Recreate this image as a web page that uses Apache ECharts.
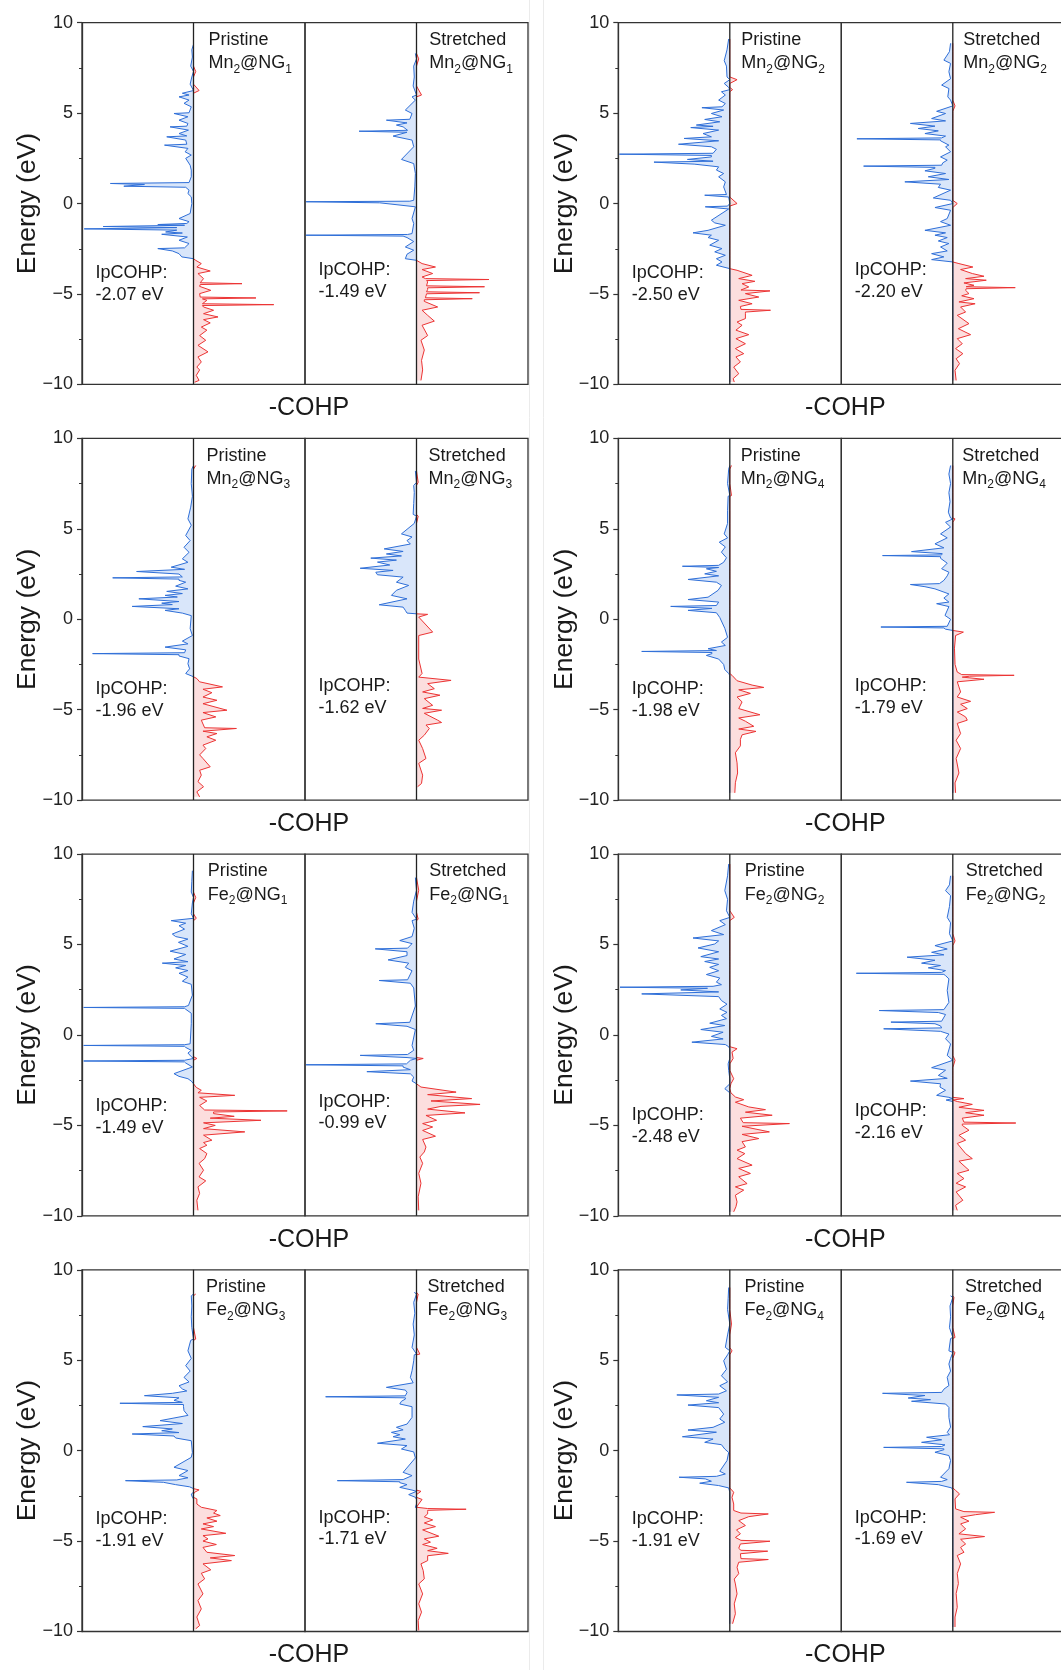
<!DOCTYPE html>
<html>
<head>
<meta charset="utf-8">
<script src="https://cdn.jsdelivr.net/npm/echarts@6/dist/echarts.min.js"></script>
<style>
html,body{margin:0;padding:0;background:#fff;}
#c{width:1061px;height:1670px;}
</style>
</head>
<body>
<div id="c"></div>
<script>
// ---------------- DATA ----------------
// Energy axis ticks (eV)
const energyTicks = [-10, -5, 0, 5, 10];
// Group labels (order: row by row, left column first)
const metals = ['Mn', 'Mn', 'Mn', 'Mn', 'Fe', 'Fe', 'Fe', 'Fe'];
const ngIndex = ['1', '2', '3', '4', '1', '2', '3', '4'];
const ipcohpPristine = ['-2.07', '-2.50', '-1.96', '-1.98', '-1.49', '-2.48', '-1.91', '-1.91'];
const ipcohpStretched = ['-1.49', '-2.20', '-1.62', '-1.79', '-0.99', '-2.16', '-1.71', '-1.69'];

// Spectra: [energy (eV), -COHP (arb. units, panel spans -10..10)]
const mn2ng1_pristine = [[8.8,0],[8.5,-0.15],[8.1,-0.1],[7.6,-0.25],[7.3,0.2],[7.0,-0.15],[6.6,-0.3],[6.25,0.5],[6.1,-1.0],[6.0,-0.4],[5.9,-1.3],[5.72,-0.4],[5.54,-0.85],[5.35,-0.2],[5.02,-0.4],[4.98,-1.75],[4.8,-0.5],[4.61,-1.3],[4.43,-0.5],[4.28,-0.6],[4.24,-2.1],[4.06,-0.45],[3.87,-1.3],[3.74,-0.6],[3.69,-2.4],[3.51,-0.7],[3.28,-0.6],[3.23,-2.6],[3.05,-0.5],[2.86,-0.75],[2.68,-0.2],[2.5,-0.7],[2.12,-0.3],[1.85,-0.2],[1.48,-0.2],[1.16,-0.4],[1.11,-7.45],[1.05,-4.4],[0.96,-6.25],[0.9,-0.7],[0.74,-0.4],[0.55,-0.5],[0.37,-0.2],[0.0,-0.15],[-0.55,-0.3],[-0.83,-1.3],[-1.0,-0.4],[-1.1,-0.6],[-1.16,-3.2],[-1.2,-0.8],[-1.27,-8.1],[-1.33,-1.5],[-1.4,-9.8],[-1.47,-1.5],[-1.57,-2.5],[-1.63,-1.0],[-1.7,-2.85],[-1.85,-0.55],[-2.03,-1.3],[-2.21,-0.4],[-2.45,-0.8],[-2.49,-3.2],[-2.62,-1.9],[-2.77,-1.3],[-2.95,-1.05],[-3.05,0],[-3.14,0.2],[-3.32,0.7],[-3.51,0.3],[-3.73,1.5],[-3.87,0.4],[-4.15,0.9],[-4.38,0.6],[-4.43,4.35],[-4.48,0.6],[-4.58,0.55],[-4.8,1.55],[-4.98,0.55],[-5.17,0.6],[-5.22,5.6],[-5.27,0.8],[-5.35,1.2],[-5.54,0.8],[-5.59,7.2],[-5.64,0.8],[-5.72,0.9],[-5.9,1.8],[-6.09,0.9],[-6.27,2.2],[-6.42,0.9],[-6.6,1.5],[-6.83,0.7],[-7.0,1.2],[-7.3,0.55],[-7.56,1.1],[-7.84,0.4],[-8.2,1.3],[-8.48,0.4],[-8.76,0.7],[-9.04,0.3],[-9.2,0.55],[-9.5,0.25],[-9.78,0.5],[-9.88,0.1]];
const mn2ng1_stretched = [[8.3,-0.1],[8.0,0.2],[7.6,-0.25],[7.0,-0.2],[6.5,-0.3],[6.0,0.45],[5.9,-0.4],[5.72,-0.1],[5.17,-1.0],[4.98,-0.4],[4.66,-0.6],[4.61,-2.7],[4.46,-0.85],[4.34,-1.8],[4.24,-1.2],[4.05,-0.8],[4.0,-5.15],[3.94,-0.85],[3.73,-2.1],[3.51,-0.4],[3.14,-0.25],[2.44,-1.35],[2.21,-0.25],[1.66,-0.1],[0.92,-0.15],[0.18,-0.25],[0.13,-0.6],[0.1,-9.9],[0.04,-3.3],[-0.18,-0.1],[-0.83,-0.4],[-1.11,-0.25],[-1.66,-0.4],[-1.71,-0.8],[-1.75,-9.9],[-1.8,-1.2],[-1.88,-0.85],[-2.1,-0.25],[-2.4,-1.0],[-2.58,-0.25],[-2.8,-0.85],[-3.05,-1.0],[-3.14,0],[-3.32,0.5],[-3.51,1.7],[-3.65,0.5],[-3.87,1.45],[-4.06,0.5],[-4.15,0.8],[-4.2,6.5],[-4.26,0.9],[-4.33,1.0],[-4.55,0.9],[-4.6,6.1],[-4.66,1.0],[-4.75,1.0],[-4.88,0.9],[-4.93,5.65],[-4.99,0.9],[-5.1,0.85],[-5.21,0.8],[-5.26,5.0],[-5.32,0.7],[-5.41,0.7],[-5.72,1.9],[-5.9,0.5],[-6.18,1.0],[-6.5,1.6],[-6.73,0.5],[-7.3,1.0],[-7.56,0.4],[-8.1,0.7],[-8.67,0.45],[-9.2,0.55],[-9.78,0.4]];
const mn2ng2_pristine = [[9.1,-0.1],[8.5,-0.25],[7.9,-0.5],[7.6,-0.3],[7.0,-0.25],[6.85,0.65],[6.64,-0.5],[6.42,-0.1],[6.3,0.25],[6.18,-0.75],[6.0,-0.4],[5.72,-1.0],[5.53,-0.4],[5.35,-0.7],[5.3,-2.5],[5.17,-0.55],[4.98,-1.65],[4.8,-0.7],[4.65,-2.25],[4.52,-0.9],[4.34,-3.0],[4.27,-1.5],[4.2,-3.5],[4.06,-1.0],[3.87,-2.4],[3.69,-1.65],[3.6,-4.1],[3.47,-1.0],[3.28,-4.6],[3.14,-1.65],[3.0,-1.2],[2.78,-1.5],[2.73,-9.9],[2.66,-1.65],[2.58,-1.65],[2.44,-3.8],[2.34,-1.5],[2.29,-6.8],[2.18,-3.2],[2.03,-1.0],[1.85,-1.2],[1.66,-0.55],[1.48,-1.0],[1.2,-0.4],[0.92,-0.55],[0.5,-0.3],[0.46,-2.25],[0.36,-0.1],[0.0,0.65],[-0.14,-0.2],[-0.18,-2.2],[-0.3,-0.1],[-0.92,-1.65],[-1.07,-1.35],[-1.2,-0.4],[-1.48,-1.95],[-1.62,-3.3],[-1.75,-1.65],[-1.88,-1.95],[-2.03,-1.0],[-2.3,-1.8],[-2.49,-0.7],[-2.67,-1.35],[-2.86,-0.4],[-3.05,-1.2],[-3.23,-0.7],[-3.41,-1.2],[-3.6,0],[-3.69,0.65],[-3.97,2.0],[-4.15,0.8],[-4.3,2.25],[-4.43,1.1],[-4.61,1.7],[-4.78,1.0],[-4.83,3.6],[-4.98,1.4],[-5.17,2.6],[-5.35,0.8],[-5.54,2.0],[-5.69,0.95],[-5.85,1.0],[-5.9,3.65],[-6.0,1.4],[-6.09,1.4],[-6.36,1.4],[-6.55,0.65],[-6.73,1.1],[-7.0,0.55],[-7.25,1.7],[-7.47,0.55],[-7.75,1.4],[-8.02,0.5],[-8.3,1.25],[-8.48,0.55],[-8.76,0.95],[-9.04,0.35],[-9.41,0.8],[-9.68,0.3],[-9.87,0.4]];
const mn2ng2_stretched = [[8.86,-0.2],[8.4,-0.3],[7.93,-0.8],[7.75,-0.2],[7.29,-0.35],[6.9,-0.2],[6.55,-1.0],[6.36,-0.35],[5.9,-0.45],[5.72,-0.2],[5.4,0.2],[5.1,-1.45],[4.98,-0.65],[4.7,-1.9],[4.57,-0.65],[4.43,-3.8],[4.28,-1.6],[4.15,-3.1],[4.02,-1.3],[3.87,-2.5],[3.73,-0.65],[3.63,-1.0],[3.58,-8.6],[3.52,-1.1],[3.47,-1.1],[3.23,-0.35],[3.14,-0.65],[2.86,-0.2],[2.58,-1.1],[2.4,-0.5],[2.25,-0.9],[2.12,-1.0],[2.07,-8.0],[2.0,-1.6],[1.95,-1.6],[1.81,-2.5],[1.66,-0.65],[1.48,-2.2],[1.33,-0.35],[1.2,-4.3],[1.07,-1.1],[0.89,-1.3],[0.74,-0.2],[0.31,-1.75],[0.18,-0.2],[0.0,0.4],[-0.22,-1.6],[-0.37,-0.2],[-0.83,-0.5],[-1.0,-1.1],[-1.2,-0.2],[-1.48,-2.5],[-1.62,-0.65],[-1.75,-1.6],[-1.88,-0.5],[-2.07,-1.3],[-2.21,-0.35],[-2.4,-1.1],[-2.62,-0.5],[-2.77,-1.9],[-2.95,-0.8],[-3.1,-1.9],[-3.23,0],[-3.32,0.55],[-3.51,1.8],[-3.65,0.7],[-3.87,1.75],[-4.02,2.8],[-4.15,1.15],[-4.24,3.0],[-4.39,1.0],[-4.52,1.9],[-4.6,1.2],[-4.65,5.6],[-4.71,1.2],[-4.8,1.15],[-4.98,1.45],[-5.1,0.8],[-5.26,1.9],[-5.44,0.55],[-5.54,2.0],[-5.72,0.7],[-6.0,1.15],[-6.18,0.4],[-6.64,1.45],[-6.92,0.5],[-7.25,1.6],[-7.47,0.4],[-7.75,0.85],[-8.02,0.25],[-8.3,0.9],[-8.58,0.3],[-8.85,0.6],[-9.22,0.2],[-9.78,0.3]];
const mn2ng3_pristine = [[8.5,0.2],[8.3,-0.15],[7.5,-0.2],[6.8,-0.1],[6.2,-0.25],[5.55,-0.5],[5.2,-0.2],[4.63,-0.7],[4.35,-0.3],[3.98,-0.85],[3.7,-0.4],[3.34,-1.0],[3.15,-0.5],[2.88,-2.0],[2.76,-0.8],[2.64,-5.1],[2.5,-1.3],[2.34,-1.0],[2.29,-7.25],[2.22,-1.3],[2.15,-1.3],[2.05,-0.7],[1.83,-1.6],[1.68,-0.5],[1.54,-2.4],[1.42,-1.0],[1.32,-2.55],[1.23,-1.45],[1.13,-4.9],[0.98,-1.3],[0.89,-2.85],[0.81,-1.9],[0.71,-5.5],[0.58,-1.3],[0.49,-2.55],[0.34,-1.0],[0.2,-0.2],[-0.52,-0.3],[-0.9,-0.1],[-1.21,-1.0],[-1.36,-0.5],[-1.54,-2.55],[-1.69,-0.7],[-1.85,-0.8],[-1.9,-9.05],[-1.96,-1.3],[-2.03,-1.3],[-2.18,-0.4],[-2.46,-0.5],[-2.74,-0.35],[-3.0,-0.7],[-3.18,0],[-3.28,0.3],[-3.46,0.55],[-3.74,2.6],[-3.87,0.85],[-4.06,1.65],[-4.3,0.85],[-4.48,2.1],[-4.67,0.85],[-5.03,3.0],[-5.16,0.85],[-5.4,2.0],[-5.58,0.7],[-6.0,1.0],[-6.04,3.85],[-6.19,0.85],[-6.32,2.1],[-6.5,1.2],[-6.69,2.0],[-6.96,0.85],[-7.15,1.1],[-7.5,0.55],[-7.7,0.85],[-8.16,1.5],[-8.35,0.55],[-8.62,0.7],[-8.98,0.4],[-9.26,0.9],[-9.54,0.3],[-9.82,0.55]];
const mn2ng3_stretched = [[8.2,-0.1],[7.57,0.15],[7.4,-0.25],[7.0,-0.2],[6.4,-0.25],[5.8,-0.3],[5.7,0.15],[5.3,-0.2],[4.72,-1.35],[4.55,-0.4],[4.35,-0.85],[4.16,-0.55],[3.89,-2.9],[3.75,-1.2],[3.61,-2.7],[3.5,-1.35],[3.38,-4.1],[3.27,-1.8],[3.16,-3.5],[3.0,-2.4],[2.82,-5.05],[2.7,-2.1],[2.6,-3.65],[2.46,-3.5],[2.33,-1.2],[2.05,-1.8],[1.87,-0.7],[1.6,-1.8],[1.32,-2.25],[1.13,-0.85],[0.8,-3.35],[0.67,-1.2],[0.49,-1.0],[0.34,-0.85],[0.3,0],[0.27,1.0],[0.12,0.2],[-0.71,1.45],[-0.9,0.2],[-2.2,0.2],[-3.0,0.5],[-3.2,0.2],[-3.38,3.1],[-3.56,1.0],[-3.84,1.6],[-4.02,0.55],[-4.2,2.1],[-4.39,0.7],[-4.76,1.45],[-4.93,0.55],[-5.03,2.25],[-5.2,0.7],[-5.58,1.9],[-5.71,2.25],[-5.85,0.85],[-6.04,1.15],[-6.41,0.7],[-6.69,0.2],[-7.15,0.55],[-7.7,0.85],[-7.97,0.2],[-8.62,0.55],[-9.08,0.45],[-9.26,0.1]];
const mn2ng4_pristine = [[8.5,0.15],[8.3,-0.1],[7.5,-0.2],[6.84,0.15],[6.8,-0.15],[6.0,-0.2],[5.3,-0.2],[4.72,-0.5],[4.5,-0.2],[4.26,-0.95],[4.0,-0.4],[3.71,-0.75],[3.4,-0.3],[3.15,-0.55],[2.98,-1.0],[2.93,-4.25],[2.86,-1.0],[2.79,-2.1],[2.65,-1.2],[2.51,-2.25],[2.4,-1.0],[2.2,-3.75],[2.05,-1.2],[1.87,-0.75],[1.6,-1.05],[1.22,-1.95],[1.09,-3.75],[0.95,-1.0],[0.76,-1.2],[0.71,-5.3],[0.6,-1.6],[0.49,-3.75],[0.36,-1.2],[0.1,-0.9],[-0.5,-0.45],[-1.0,-0.2],[-1.26,-0.75],[-1.45,-0.4],[-1.63,-1.95],[-1.73,-1.2],[-1.78,-7.9],[-1.84,-1.6],[-1.9,-1.6],[-2.0,-2.1],[-2.2,-1.0],[-2.5,-0.55],[-2.78,-0.45],[-3.0,-0.1],[-3.1,0.2],[-3.4,0.65],[-3.64,2.0],[-3.77,3.05],[-3.9,0.8],[-4.1,1.85],[-4.3,0.65],[-4.57,1.1],[-4.94,0.8],[-5.28,2.7],[-5.46,0.8],[-5.64,1.4],[-5.92,2.15],[-6.07,0.8],[-6.2,2.35],[-6.39,1.1],[-6.64,0.95],[-7.0,0.95],[-7.38,0.5],[-7.94,0.65],[-8.5,0.7],[-9.04,0.5],[-9.6,0.45]];
const mn2ng4_stretched = [[8.5,-0.2],[8.03,-0.35],[7.5,-0.2],[7.0,-0.35],[6.5,-0.25],[5.92,-0.4],[5.6,-0.2],[5.55,0.2],[5.36,-0.65],[5.1,-0.2],[4.72,-1.1],[4.5,-0.5],[4.17,-1.6],[3.95,-0.8],[3.74,-3.7],[3.63,-0.95],[3.56,-1.0],[3.52,-6.3],[3.46,-1.1],[3.37,-1.1],[3.1,-0.5],[2.79,-1.0],[2.6,-0.35],[2.4,-0.5],[2.15,-0.8],[1.97,-1.2],[1.92,-3.8],[1.8,-2.5],[1.68,-1.6],[1.4,-0.35],[1.17,-0.8],[0.95,-0.35],[0.86,-1.45],[0.7,-0.35],[0.21,-0.7],[0.0,-0.2],[-0.39,-0.5],[-0.43,-6.45],[-0.48,-0.8],[-0.55,-0.65],[-0.62,0],[-0.71,0.95],[-0.9,0.25],[-1.6,0.15],[-2.5,0.2],[-2.92,0.4],[-3.06,0.8],[-3.1,5.5],[-3.15,1.5],[-3.2,0.85],[-3.32,2.8],[-3.46,0.4],[-3.74,0.55],[-4.02,0.7],[-4.3,0.4],[-4.54,1.6],[-4.7,0.7],[-4.94,1.3],[-5.13,0.4],[-5.4,1.15],[-5.58,1.3],[-5.76,0.4],[-6.32,0.7],[-6.69,0.3],[-7.15,0.7],[-7.7,0.3],[-8.5,0.55],[-9.05,0.2],[-9.6,0.25]];
const fe2ng1_pristine = [[9.08,-0.1],[8.5,-0.15],[7.9,-0.2],[7.6,0.2],[7.3,-0.1],[6.7,-0.2],[6.45,0.25],[6.32,-2.0],[6.18,-0.7],[6.04,-1.3],[5.85,-0.8],[5.58,-1.9],[5.44,-1.6],[5.3,-0.5],[5.12,-1.35],[4.9,-0.5],[4.63,-2.1],[4.45,-0.7],[4.2,-1.75],[4.05,-0.5],[3.97,-2.8],[3.84,-0.7],[3.71,-1.6],[3.56,-0.5],[3.41,-1.3],[3.2,-0.5],[2.97,-1.0],[2.8,-0.2],[2.2,-0.1],[1.63,-0.45],[1.56,-0.8],[1.52,-9.85],[1.47,-0.8],[1.42,-0.7],[1.2,-0.2],[0.62,-0.2],[-0.49,-0.3],[-0.54,-0.8],[-0.58,-9.85],[-0.63,-0.8],[-0.69,-0.7],[-0.85,-0.2],[-1.0,-0.5],[-1.2,-0.2],[-1.3,0.3],[-1.4,-0.8],[-1.44,-9.85],[-1.49,-0.8],[-1.55,-0.7],[-1.77,-0.1],[-2.14,-1.75],[-2.29,-1.3],[-2.42,-0.5],[-2.55,-0.2],[-2.7,0],[-2.9,0.25],[-3.06,0.7],[-3.2,0.4],[-3.34,3.7],[-3.45,0.55],[-3.65,1.2],[-3.9,0.55],[-4.15,1.0],[-4.2,8.4],[-4.26,1.8],[-4.35,1.8],[-4.5,3.65],[-4.6,1.5],[-4.72,6.05],[-4.86,0.9],[-5.0,1.95],[-5.18,0.9],[-5.36,4.6],[-5.54,0.9],[-5.82,1.65],[-5.95,0.9],[-6.1,1.2],[-6.28,0.55],[-6.56,1.2],[-6.84,1.0],[-7.1,0.5],[-7.48,0.9],[-7.85,0.5],[-8.07,1.1],[-8.4,0.4],[-8.76,0.55],[-9.14,0.3],[-9.7,0.4]];
const fe2ng1_stretched = [[8.7,-0.1],[8.0,0.2],[7.4,-0.25],[6.78,-0.4],[6.4,0.15],[6.32,-0.4],[5.9,-0.2],[5.44,-0.4],[5.22,-1.5],[5.05,-0.4],[4.8,-0.8],[4.76,-3.7],[4.6,-0.85],[4.39,-0.85],[4.15,-2.55],[3.97,-0.7],[3.74,-1.0],[3.55,-0.4],[3.05,-0.8],[3.01,-3.35],[2.86,-0.55],[2.6,-0.25],[1.6,-0.1],[0.7,-0.6],[0.62,-3.65],[0.48,-0.85],[0.3,-0.1],[-0.58,-0.4],[-0.85,-0.25],[-1.08,-0.8],[-1.13,-5.05],[-1.25,-0.85],[-1.3,0.6],[-1.4,-0.55],[-1.6,-0.9],[-1.65,-9.9],[-1.71,-1.2],[-1.78,-1.2],[-1.92,-0.55],[-2.03,-4.45],[-2.15,-0.55],[-2.33,-0.25],[-2.55,-0.4],[-2.7,0],[-2.88,0.4],[-3.16,3.55],[-3.3,1.0],[-3.52,4.95],[-3.65,1.3],[-3.84,5.7],[-3.95,2.2],[-4.1,1.0],[-4.31,4.35],[-4.45,0.85],[-4.72,1.8],[-4.9,0.55],[-5.09,1.45],[-5.28,0.55],[-5.6,1.7],[-5.78,0.55],[-6.2,0.85],[-6.47,0.7],[-6.75,0.3],[-7.1,0.55],[-7.65,0.2],[-8.2,0.4],[-8.95,0.15],[-9.7,0.2]];
const fe2ng2_pristine = [[9.45,-0.1],[8.8,-0.2],[7.98,-0.45],[7.5,-0.2],[6.87,-0.3],[6.5,0.4],[6.32,-0.9],[6.1,-0.4],[5.77,-1.65],[5.55,-0.55],[5.36,-3.3],[5.2,-1.0],[5.03,-1.35],[4.81,-2.85],[4.6,-1.0],[4.33,-2.6],[4.2,-1.0],[4.06,-2.25],[3.9,-1.0],[3.74,-1.8],[3.55,-1.0],[3.34,-2.1],[3.15,-0.9],[2.92,-1.2],[2.78,-0.75],[2.69,-1.5],[2.64,-9.85],[2.58,-2.0],[2.49,-4.4],[2.38,-1.0],[2.27,-7.9],[2.12,-1.0],[1.9,-0.75],[1.7,-0.25],[1.44,-0.9],[1.25,-0.25],[1.08,-0.75],[0.9,-0.3],[0.65,-1.8],[0.52,-0.45],[0.3,-2.6],[0.15,-0.6],[-0.08,-1.65],[-0.22,-0.6],[-0.4,-3.4],[-0.53,-0.4],[-0.65,-0.1],[-0.76,0.65],[-0.95,0.2],[-1.3,0.3],[-1.6,-0.15],[-1.96,-0.1],[-2.42,0.35],[-2.7,0.1],[-2.97,-0.45],[-3.2,0.1],[-3.43,0.5],[-3.58,1.25],[-3.72,0.5],[-3.98,1.7],[-4.13,3.2],[-4.27,1.4],[-4.44,3.8],[-4.6,0.95],[-4.85,1.2],[-4.9,5.35],[-5.05,1.1],[-5.36,3.55],[-5.5,1.1],[-5.73,2.6],[-5.9,1.1],[-6.19,1.4],[-6.37,0.65],[-6.56,1.35],[-6.84,0.65],[-7.2,2.0],[-7.38,0.8],[-7.66,1.85],[-7.84,0.8],[-8.22,1.55],[-8.4,0.5],[-8.58,1.25],[-8.86,0.5],[-9.23,0.65],[-9.5,0.55],[-9.78,0.35]];
const fe2ng2_stretched = [[8.8,-0.2],[8.3,-0.3],[7.98,-0.65],[7.7,-0.2],[7.1,-0.3],[6.5,-0.5],[6.2,-0.2],[5.6,-0.3],[5.2,0.2],[4.94,-1.6],[4.75,-0.5],[4.57,-1.9],[4.43,-0.8],[4.3,-4.1],[4.13,-1.6],[3.97,-2.8],[3.84,-1.1],[3.71,-2.2],[3.56,-0.65],[3.46,-1.0],[3.41,-8.65],[3.35,-0.8],[3.28,-0.65],[3.1,-0.35],[2.46,-0.5],[1.8,-0.35],[1.4,-0.8],[1.35,-6.6],[1.24,-1.3],[1.13,-0.65],[0.76,-1.0],[0.71,-5.55],[0.62,-1.6],[0.5,-1.1],[0.39,-1.0],[0.34,-6.2],[0.2,-1.1],[0.05,-0.35],[-0.21,-0.65],[-0.5,-0.2],[-1.13,-0.5],[-1.4,0.2],[-1.81,-1.9],[-1.95,-0.65],[-2.24,-1.3],[-2.4,-0.5],[-2.55,-3.8],[-2.7,-1.1],[-2.88,-1.15],[-3.06,-0.65],[-3.34,-1.45],[-3.45,-0.35],[-3.52,1.0],[-3.6,-0.6],[-3.68,0.4],[-3.84,1.75],[-4.0,0.55],[-4.17,2.8],[-4.3,1.15],[-4.44,2.8],[-4.6,0.85],[-4.82,1.0],[-4.87,5.65],[-4.93,0.85],[-5.0,0.85],[-5.27,1.45],[-5.55,0.55],[-5.82,1.15],[-6.0,0.4],[-6.56,1.15],[-6.84,1.75],[-6.98,0.55],[-7.48,1.45],[-7.66,0.4],[-7.94,1.0],[-8.2,0.3],[-8.4,1.15],[-8.68,0.3],[-9.14,0.9],[-9.42,0.25],[-9.7,0.4]];
const fe2ng3_pristine = [[8.66,0.2],[8.56,-0.2],[8.0,-0.15],[7.4,-0.2],[6.8,-0.15],[6.17,0.2],[6.1,-0.25],[5.52,-0.5],[5.1,-0.2],[4.7,-0.7],[4.4,-0.3],[4.05,-0.85],[3.8,-0.4],[3.59,-1.3],[3.41,-1.0],[3.3,-0.6],[3.17,-1.9],[3.04,-4.4],[2.92,-1.3],[2.78,-1.75],[2.67,-1.0],[2.62,-6.6],[2.55,-0.9],[2.45,-0.9],[2.21,-0.85],[1.95,-0.5],[1.66,-3.0],[1.5,-1.0],[1.33,-4.55],[1.2,-1.9],[1.1,-2.85],[1.0,-1.3],[0.92,-5.5],[0.81,-1.75],[0.7,-1.6],[0.55,-0.2],[-0.1,-0.1],[-0.37,-0.2],[-0.92,-1.75],[-1.1,-0.5],[-1.38,-1.3],[-1.5,-0.5],[-1.62,-1.5],[-1.66,-6.1],[-1.75,-2.7],[-1.88,-1.6],[-2.0,-0.35],[-2.1,0],[-2.17,0.5],[-2.3,0.1],[-2.4,-0.2],[-2.58,-0.1],[-2.67,0.3],[-2.95,0.3],[-3.13,0.7],[-3.31,2.1],[-3.45,1.8],[-3.59,2.4],[-3.72,1.2],[-3.9,2.1],[-4.05,0.85],[-4.2,1.8],[-4.33,0.7],[-4.57,2.9],[-4.7,0.85],[-4.88,1.3],[-5.0,0.85],[-5.19,2.05],[-5.35,0.85],[-5.62,1.2],[-5.8,3.7],[-5.93,1.5],[-6.08,3.4],[-6.26,0.85],[-6.59,1.55],[-6.78,0.7],[-7.09,1.0],[-7.37,0.4],[-7.92,0.85],[-8.29,0.4],[-8.75,0.7],[-9.2,0.3],[-9.67,0.55],[-9.85,0.2]];
const fe2ng3_stretched = [[8.75,-0.2],[8.66,0.15],[8.2,-0.25],[7.6,-0.15],[7.0,-0.3],[6.4,-0.2],[5.71,-0.4],[5.34,0.3],[5.3,-0.2],[4.97,-0.25],[4.42,-0.4],[4.05,-0.55],[3.75,-0.3],[3.5,-2.7],[3.35,-1.0],[3.22,-0.85],[3.03,-1.0],[2.98,-8.15],[2.92,-1.0],[2.85,-1.0],[2.73,-1.35],[2.58,-1.5],[2.43,-0.4],[1.84,-0.4],[1.47,-0.85],[1.29,-1.8],[1.15,-1.2],[1.01,-2.25],[0.88,-1.5],[0.77,-2.1],[0.64,-1.0],[0.41,-3.5],[0.28,-0.85],[0.09,-1.35],[-0.07,-0.25],[-0.4,-0.1],[-1.2,-1.2],[-1.38,-0.4],[-1.6,-1.2],[-1.66,-7.1],[-1.72,-1.5],[-1.77,-1.5],[-1.88,-0.85],[-2.03,-1.5],[-2.18,-0.4],[-2.25,0.4],[-2.43,-0.7],[-2.58,-0.1],[-2.7,0.5],[-2.95,0.2],[-3.13,-0.1],[-3.2,1.0],[-3.24,4.45],[-3.3,1.0],[-3.37,1.0],[-3.5,1.0],[-3.66,0.7],[-3.83,1.45],[-4.0,0.7],[-4.2,1.7],[-4.38,0.55],[-4.73,2.0],[-4.88,0.7],[-5.06,1.25],[-5.19,0.55],[-5.4,1.85],[-5.53,1.0],[-5.68,2.85],[-5.81,1.0],[-6.08,1.0],[-6.26,0.4],[-6.63,0.6],[-7.09,0.7],[-7.37,0.2],[-7.92,0.55],[-8.47,0.2],[-8.93,0.45],[-9.4,0.15],[-9.94,0.2]];
const fe2ng4_pristine = [[9.02,-0.1],[8.4,-0.15],[7.8,-0.2],[7.0,0.15],[6.4,-0.2],[5.71,-0.4],[5.52,0.2],[5.3,-0.2],[4.97,-0.55],[4.5,-0.3],[4.14,-0.75],[3.8,-0.2],[3.59,-0.9],[3.31,-0.3],[3.13,-1.0],[3.08,-4.75],[2.95,-1.0],[2.76,-2.1],[2.65,-1.0],[2.52,-3.75],[2.38,-1.0],[2.02,-0.55],[1.75,-0.9],[1.57,-0.45],[1.29,-1.5],[1.14,-3.75],[1.02,-1.2],[0.77,-4.25],[0.64,-1.5],[0.46,-2.25],[0.33,-0.75],[0.09,-0.45],[-0.1,-0.1],[-0.55,-0.25],[-1.14,-0.9],[-1.29,-0.4],[-1.42,-1.2],[-1.47,-4.55],[-1.56,-2.2],[-1.69,-1.65],[-1.8,-2.7],[-1.93,-1.0],[-2.06,-0.1],[-2.3,0.35],[-2.58,0.2],[-2.95,0.35],[-3.31,0.35],[-3.45,1.0],[-3.5,3.45],[-3.65,1.7],[-3.87,0.8],[-4.14,1.4],[-4.38,0.6],[-4.6,0.95],[-4.8,0.5],[-4.96,1.0],[-5.01,3.6],[-5.16,0.95],[-5.4,0.8],[-5.51,1.0],[-5.56,3.4],[-5.7,0.95],[-5.97,1.0],[-6.02,3.45],[-6.17,0.8],[-6.45,0.65],[-6.8,0.8],[-7.1,0.4],[-7.37,0.5],[-7.92,0.65],[-8.47,0.4],[-9.02,0.5],[-9.57,0.25]];
const fe2ng4_stretched = [[8.56,-0.2],[8.47,0.1],[8.0,-0.25],[7.4,-0.2],[6.8,-0.3],[6.26,0.2],[6.2,-0.2],[5.52,-0.35],[5.43,0.2],[5.1,-0.2],[4.79,-0.35],[4.4,-0.2],[4.05,-0.5],[3.6,-0.35],[3.4,-0.8],[3.22,-1.0],[3.17,-6.3],[3.05,-2.5],[2.91,-4.0],[2.82,-2.0],[2.73,-3.7],[2.58,-0.65],[2.39,-0.35],[1.84,-0.35],[1.3,-0.2],[1.01,-0.5],[0.88,-0.3],[0.74,-2.35],[0.6,-1.0],[0.46,-2.8],[0.32,-0.7],[0.23,-1.0],[0.18,-6.2],[0.1,-0.8],[0.05,-0.8],[-0.09,-1.6],[-0.27,-0.35],[-0.55,-0.2],[-1.0,-0.35],[-1.47,-1.1],[-1.6,-0.5],[-1.7,-1.0],[-1.75,-4.15],[-1.88,-1.3],[-2.06,-0.1],[-2.2,0.25],[-2.39,0.6],[-2.67,0.2],[-3.22,0.25],[-3.37,1.0],[-3.41,3.75],[-3.54,2.05],[-3.68,0.7],[-3.9,1.45],[-4.05,0.7],[-4.33,1.15],[-4.6,0.55],[-4.75,2.85],[-4.9,0.7],[-5.16,1.15],[-5.35,0.7],[-5.62,1.0],[-5.8,0.4],[-6.26,0.7],[-6.8,0.4],[-7.35,0.5],[-7.9,0.3],[-8.66,0.4],[-9.2,0.2],[-9.75,0.2]];

// ---------------- LAYOUT / STYLE ----------------
const panels = [
  mn2ng1_pristine, mn2ng1_stretched, mn2ng2_pristine, mn2ng2_stretched,
  mn2ng3_pristine, mn2ng3_stretched, mn2ng4_pristine, mn2ng4_stretched,
  fe2ng1_pristine, fe2ng1_stretched, fe2ng2_pristine, fe2ng2_stretched,
  fe2ng3_pristine, fe2ng3_stretched, fe2ng4_pristine, fe2ng4_stretched
];
const FONT = '"Liberation Sans", Arial, Helvetica, sans-serif';
const COL_LEFT = [82, 618.3];
const ROW_TOP = [22.7, 438.4, 854.1, 1269.8];
const PANEL_W = 223, PANEL_H = 361.7;
const BLUE = '#2f6fd8', RED = '#ec3434';
const BLUE_FILL = 'rgba(80,140,230,0.22)', RED_FILL = 'rgba(240,90,90,0.2)';
const AXIS = '#333333', TXT = '#1a1a1a';
const dxP = [14.9, 11.5, 13.1, 10.9, 14.2, 14.9, 12.4, 14.6];
const dxS = [12.8, 10.5, 12.1, 9.5, 12.8, 12.9, 11.1, 12.2];
const ipYP = [250.8, 250.8, 250.8, 250.8, 251.8, 260.8, 249.5, 249.5];
const ipYS = [247.5, 247.5, 247.5, 247.5, 247.5, 256.8, 247.8, 247.8];

function renderItem(params, api) {
  if (params.dataIndexInside !== 0) return null;
  const n = params.dataInsideLength;
  const blue = [], red = [];
  for (let j = 0; j < n; j++) {
    const e = api.value(0, j), v = api.value(1, j);
    blue.push(api.coord([Math.min(v, 0), e]));
    red.push(api.coord([Math.max(v, 0), e]));
  }
  const z0 = api.coord([0, api.value(0, 0)]);
  const z1 = api.coord([0, api.value(0, n - 1)]);
  const zt = api.coord([0, energyTicks[energyTicks.length - 1]]);
  const zb = api.coord([0, energyTicks[0]]);
  return {
    type: 'group',
    children: [
      { type: 'polygon', silent: true, shape: { points: [z0].concat(blue, [z1]) }, style: { fill: BLUE_FILL, stroke: null } },
      { type: 'polygon', silent: true, shape: { points: [z0].concat(red, [z1]) }, style: { fill: RED_FILL, stroke: null } },
      { type: 'polyline', silent: true, shape: { points: blue }, style: { stroke: BLUE, lineWidth: 1, fill: null } },
      { type: 'polyline', silent: true, shape: { points: red }, style: { stroke: RED, lineWidth: 1, fill: null } },
      { type: 'line', silent: true, shape: { x1: zt[0], y1: zt[1], x2: zb[0], y2: zb[1] }, style: { stroke: '#222', lineWidth: 1.3 } }
    ]
  };
}

const grids = [], xAxes = [], yAxes = [], series = [], graphics = [];

// faint separators between the two columns
[529.5, 543.5].forEach(function (x) {
  graphics.push({ type: 'line', silent: true, z: 0, shape: { x1: x, y1: 0, x2: x, y2: 1670 }, style: { stroke: '#ebebeb', lineWidth: 1 } });
});

for (let g = 0; g < 8; g++) {
  const row = Math.floor(g / 2), col = g % 2;
  const L = COL_LEFT[col], T = ROW_TOP[row];
  for (let p = 0; p < 2; p++) {
    const idx = g * 2 + p;
    grids.push({
      left: L + p * PANEL_W, top: T, width: PANEL_W, height: PANEL_H,
      show: true, borderColor: AXIS, borderWidth: 1.3, backgroundColor: 'transparent',
      containLabel: false, outerBoundsMode: 'none'
    });
    xAxes.push({ gridIndex: idx, type: 'value', min: -10, max: 10, show: false });
    yAxes.push({
      gridIndex: idx, type: 'value',
      min: energyTicks[0], max: energyTicks[energyTicks.length - 1], interval: energyTicks[1] - energyTicks[0],
      show: p === 0, position: 'left',
      axisLine: { show: true, onZero: false, lineStyle: { color: AXIS, width: 1.3 } },
      axisTick: { show: true, inside: false, length: 5, lineStyle: { color: AXIS, width: 1.2 } },
      minorTick: { show: true, splitNumber: 2, length: 3, lineStyle: { color: AXIS, width: 1 } },
      splitLine: { show: false }, minorSplitLine: { show: false },
      axisLabel: {
        show: true, margin: 9, fontSize: 18, color: '#222', fontFamily: FONT,
        showMinLabel: true, showMaxLabel: true,
        formatter: function (v) { return v < 0 ? '\u2212' + Math.abs(v) : String(v); }
      }
    });
    series.push({
      type: 'custom', xAxisIndex: idx, yAxisIndex: idx,
      data: panels[idx], encode: { x: 1, y: 0 },
      renderItem: renderItem, silent: true, clip: false, z: 2
    });
  }

  // axis titles
  graphics.push({
    type: 'text', silent: true, x: L - 54, y: T + PANEL_H / 2, rotation: Math.PI / 2,
    style: { text: 'Energy (eV)', fontSize: 26.5, fontFamily: FONT, fill: TXT, align: 'center', verticalAlign: 'middle' }
  });
  graphics.push({
    type: 'text', silent: true, x: L + PANEL_W + 4, y: T + PANEL_H + 24,
    style: { text: '-COHP', fontSize: 25, fontFamily: FONT, fill: TXT, align: 'center', verticalAlign: 'middle' }
  });

  const formula = '{m|' + metals[g] + '}{s|2}{m|@NG}{s|' + ngIndex[g] + '}';
  const rich = {
    m: { fontSize: 18, fontFamily: FONT, fill: TXT, lineHeight: 24 },
    s: { fontSize: 12, fontFamily: FONT, fill: TXT, lineHeight: 12, verticalAlign: 'bottom' }
  };
  const zp = L + PANEL_W / 2, zs = L + PANEL_W * 1.5;
  // state labels
  graphics.push({ type: 'text', silent: true, x: zp + dxP[g], y: T + 17.3,
    style: { text: 'Pristine', fontSize: 18, fontFamily: FONT, fill: TXT, align: 'left', verticalAlign: 'middle' } });
  graphics.push({ type: 'text', silent: true, x: zp + dxP[g], y: T + 40.6,
    style: { text: formula, rich: rich, align: 'left', verticalAlign: 'middle' } });
  graphics.push({ type: 'text', silent: true, x: zs + dxS[g], y: T + 17.3,
    style: { text: 'Stretched', fontSize: 18, fontFamily: FONT, fill: TXT, align: 'left', verticalAlign: 'middle' } });
  graphics.push({ type: 'text', silent: true, x: zs + dxS[g], y: T + 40.6,
    style: { text: formula, rich: rich, align: 'left', verticalAlign: 'middle' } });
  // IpCOHP labels
  graphics.push({ type: 'text', silent: true, x: zp - 98, y: T + ipYP[g],
    style: { text: 'IpCOHP:', fontSize: 18, fontFamily: FONT, fill: TXT, align: 'left', verticalAlign: 'middle' } });
  graphics.push({ type: 'text', silent: true, x: zp - 98, y: T + ipYP[g] + 21.7,
    style: { text: ipcohpPristine[g] + ' eV', fontSize: 18, fontFamily: FONT, fill: TXT, align: 'left', verticalAlign: 'middle' } });
  graphics.push({ type: 'text', silent: true, x: zs - 98, y: T + ipYS[g],
    style: { text: 'IpCOHP:', fontSize: 18, fontFamily: FONT, fill: TXT, align: 'left', verticalAlign: 'middle' } });
  graphics.push({ type: 'text', silent: true, x: zs - 98, y: T + ipYS[g] + 21.7,
    style: { text: ipcohpStretched[g] + ' eV', fontSize: 18, fontFamily: FONT, fill: TXT, align: 'left', verticalAlign: 'middle' } });
}

const chart = echarts.init(document.getElementById('c'), null, { renderer: 'canvas' });
chart.setOption({
  animation: false,
  backgroundColor: '#ffffff',
  grid: grids,
  xAxis: xAxes,
  yAxis: yAxes,
  series: series,
  graphic: { elements: graphics }
});
</script>
</body>
</html>
